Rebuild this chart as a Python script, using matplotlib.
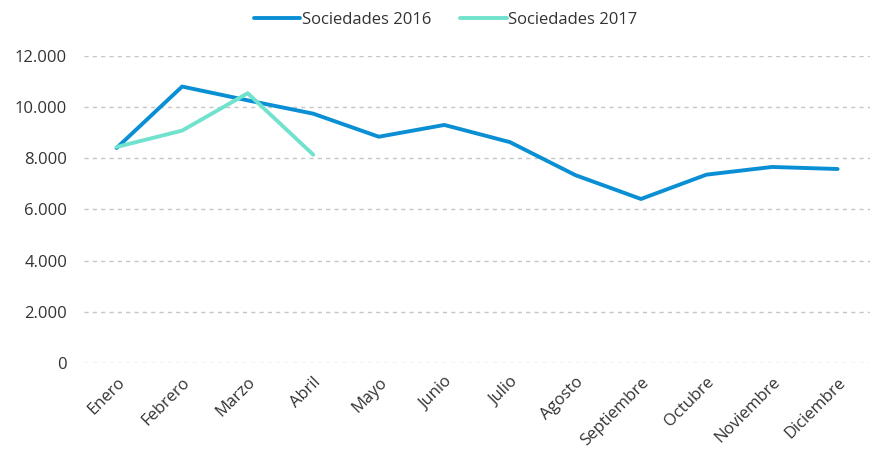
import matplotlib.pyplot as plt
from matplotlib.ticker import FuncFormatter, MultipleLocator

plt.rcParams['font.family'] = ['Open Sans', 'DejaVu Sans']

meses = ['Enero', 'Febrero', 'Marzo', 'Abril', 'Mayo', 'Junio', 'Julio',
         'Agosto', 'Septiembre', 'Octubre', 'Noviembre', 'Diciembre']
soc_2016 = [8400, 10800, 10260, 9740, 8840, 9300, 8630,
            7340, 6410, 7360, 7660, 7580]
soc_2017 = [8440, 9080, 10540, 8140]

fig = plt.figure(figsize=(8.73, 4.5), dpi=100)
ax = fig.add_axes([0.096, 0.193, 0.901, 0.683])

x = list(range(len(meses)))
ax.plot(x, soc_2016, color='#0a8fd4', lw=2.8, label='Sociedades 2016', solid_capstyle='round')
ax.plot(x[:len(soc_2017)], soc_2017, color='#71e2cd', lw=2.8, label='Sociedades 2017', solid_capstyle='round')

ax.set_xlim(-0.5, len(meses) - 0.5)
ax.set_ylim(0, 12000)
ax.yaxis.set_major_locator(MultipleLocator(2000))
ax.yaxis.set_major_formatter(FuncFormatter(lambda v, p: f'{int(v):,}'.replace(',', '.')))
ax.grid(axis='y', color='#c6c6c6', ls=(0, (3, 3)), lw=1)
ax.set_axisbelow(True)

ax.set_xticks(x)
ax.set_xticklabels(meses, rotation=45, ha='right', rotation_mode='anchor')
for s in ax.spines.values():
    s.set_visible(False)
ax.tick_params(length=0, labelsize=12, colors='#333333')
ax.tick_params(axis='y', pad=12)
ax.tick_params(axis='x', pad=8)

ax.legend(loc='center', bbox_to_anchor=(0.46, 1.118), ncol=2, frameon=False,
          fontsize=12, handlelength=2.8, handletextpad=0.1, columnspacing=1.7,
          labelcolor='#333333')

fig.savefig('out.png', dpi=100)
